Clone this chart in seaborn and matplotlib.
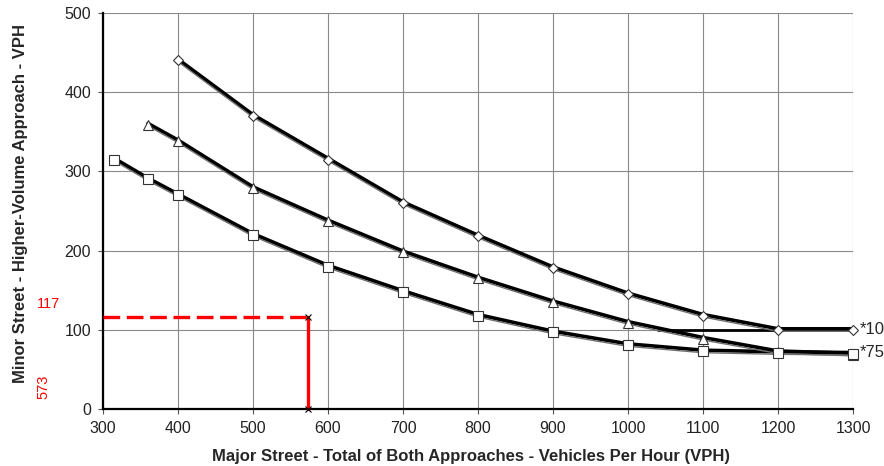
import matplotlib
matplotlib.use("Agg")
import matplotlib.pyplot as plt
import matplotlib.transforms as mtransforms
import seaborn as sns
import pandas as pd

# Warrant curves: major-street total (VPH) vs minor-street higher-volume approach (VPH)
major_diamond = [400, 500, 600, 700, 800, 900, 1000, 1100, 1200, 1300]
minor_diamond = [440, 370, 315, 260, 218, 178, 145, 118, 100, 100]

major_triangle = [360, 400, 500, 600, 700, 800, 900, 1000, 1100, 1200, 1300]
minor_triangle = [359, 338, 279, 237, 198, 165, 135, 109, 89, 72, 69]

major_square = [315, 360, 400, 500, 600, 700, 800, 900, 1000, 1100, 1200, 1300]
minor_square = [315, 290, 270, 220, 180, 148, 118, 97, 81, 73, 71, 70]

# Floor line for the upper curve
floor_x = [1040, 1300]
floor_y = [100, 100]

# Site check point
site_major = 573
site_minor = 117

curve_labels = ["*10", "*75"]
curve_label_y = [100, 71]

x_ticks = list(range(300, 1301, 100))
y_ticks = list(range(0, 501, 100))

sns.set_style("white")
plt.rcParams["font.family"] = ["Liberation Sans", "DejaVu Sans"]

fig = plt.figure(figsize=(8.84, 4.66), dpi=100)
ax = fig.add_axes([0.1165, 0.1217, 0.8485, 0.8508])

curves = [
    (major_diamond, minor_diamond, "D", 5.5),
    (major_triangle, minor_triangle, "^", 7),
    (major_square, minor_square, "s", 7.5),
]

up = mtransforms.offset_copy(ax.transData, fig=fig, x=0, y=1.2, units="dots")
down = mtransforms.offset_copy(ax.transData, fig=fig, x=0, y=-1.3, units="dots")

for xs, ys, mk, ms in curves:
    df = pd.DataFrame({"major": xs, "minor": ys})
    # heavy black trace
    sns.lineplot(data=df, x="major", y="minor", ax=ax, color="black",
                 linewidth=2.6, sort=False, zorder=3)
    ax.lines[-1].set_transform(up)
    # thin companion trace carrying the markers
    sns.lineplot(data=df, x="major", y="minor", ax=ax, color="#6e6e6e",
                 linewidth=1.0, sort=False, zorder=4)
    ax.lines[-1].set_transform(down)
    ax.plot(xs, ys, linestyle="none", marker=mk, markersize=ms,
            markerfacecolor="white", markeredgecolor="#333333",
            markeredgewidth=0.8, zorder=5, clip_on=False)

sns.lineplot(x=floor_x, y=floor_y, ax=ax, color="black", linewidth=2.0, zorder=3)

# Site point: dashed horizontal, solid vertical drop
ax.plot([300, site_major], [site_minor, site_minor], color="#ff0000",
        linewidth=2.4, dashes=(5, 2), zorder=6, clip_on=False)
ax.plot([site_major, site_major], [site_minor, 0], color="#ff0000",
        linewidth=2.4, zorder=6, clip_on=False)
ax.plot([site_major, site_major], [site_minor, 0], linestyle="none",
        marker="x", markersize=5, color="black", markeredgewidth=0.8,
        zorder=7, clip_on=False)

fig.text(49 / 884, 1 - 304 / 466, str(site_minor), color="#ff0000",
         fontsize=10.5, ha="center", va="center")
fig.text(43 / 884, 1 - 387 / 466, str(site_major), color="#ff0000",
         fontsize=10.5, ha="center", va="center", rotation=90)

for lab, yv in zip(curve_labels, curve_label_y):
    ax.annotate(lab, xy=(1300, yv), xytext=(4.5, 0), textcoords="offset points",
                fontsize=12, va="center", ha="left", annotation_clip=False)

ax.set_xlim(300, 1300)
ax.set_ylim(0, 500)
ax.set_xticks(x_ticks)
ax.set_yticks(y_ticks)
ax.grid(True, color="#8a8a8a", linewidth=0.8)
ax.set_axisbelow(True)
for side in ("top", "right"):
    ax.spines[side].set_visible(False)
for side in ("left", "bottom"):
    ax.spines[side].set_color("black")
    ax.spines[side].set_linewidth(1.6)
ax.tick_params(axis="both", which="major", direction="out", length=3.5,
               width=0.8, color="#555555", labelsize=11.5, labelcolor="#222222",
               left=True, bottom=True, pad=5)

ax.set_xlabel("Major Street - Total of Both Approaches - Vehicles Per Hour (VPH)",
              fontsize=12, fontweight="bold")
ax.set_ylabel("Minor Street - Higher-Volume Approach - VPH",
              fontsize=12, fontweight="bold")
ax.xaxis.set_label_coords(0.49, -0.1)
ax.yaxis.set_label_coords(-0.1, 0.52)

fig.savefig("out.png", dpi=100)
